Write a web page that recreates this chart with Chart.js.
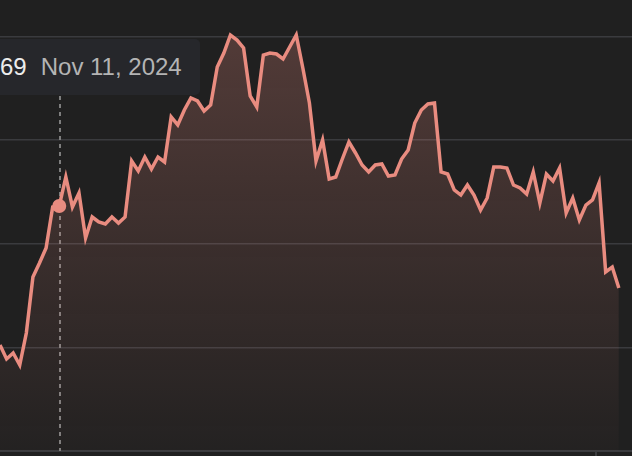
<!DOCTYPE html>
<html>
<head>
<meta charset="utf-8">
<script src="https://cdn.jsdelivr.net/npm/chart.js@4.4.1/dist/chart.umd.min.js"></script>
<style>
  html, body { margin: 0; padding: 0; background: #202020; overflow: hidden; }
  #wrap { position: relative; width: 632px; height: 456px; }
  #tip {
    position: absolute; left: 0; top: 39px; width: 200px; height: 56px;
    background: #26272b; border-radius: 0 5px 5px 0;
    font-family: "Liberation Sans", Arial, sans-serif; font-size: 24px;
    line-height: 56px; white-space: nowrap;
  }
  #tip .val { color: #ececec; }
  #tip .date { color: #b4b4b4; margin-left: 14px; }
</style>
</head>
<body>
<div id="wrap">
  <canvas id="priceChart"></canvas>
  <div id="tip"><span class="val">69</span><span class="date">Nov 11, 2024</span></div>
</div>
<script>
// Closing prices, one per trading day (visible part of the chart)
const prices = [
  160.45, 157.75, 158.90, 156.59, 162.76, 173.57, 176.27, 179.16, 187.07, 187.26,
  192.86, 187.07, 189.77, 181.09, 185.14, 184.18, 183.79, 185.14, 183.98, 185.14,
  195.94, 194.01, 196.71, 194.40, 196.71, 195.75, 204.43, 202.89, 205.78, 208.10,
  207.52, 205.59, 206.75, 214.08, 216.78, 220.25, 219.28, 217.74, 208.48, 206.36,
  216.39, 216.78, 216.58, 215.62, 217.93, 220.25, 213.88, 207.13, 195.94, 199.99,
  192.47, 192.86, 196.33, 199.61, 197.49, 195.17, 193.82, 195.17, 195.36, 193.05,
  193.24, 196.33, 198.06, 203.27, 205.78, 206.94, 207.13, 193.82, 193.43, 190.35,
  189.38, 191.31, 189.38, 186.49, 188.81, 194.79, 194.79, 194.59, 191.31, 190.73,
  189.58, 193.82, 187.84, 193.43, 192.08, 194.59, 185.91, 188.81, 184.56, 187.45,
  188.42, 191.70, 174.53, 175.49, 171.44
];

// Y axis: grid every 20 from 140, top of the plot at 227
const yMin = 140;
const yMax = 227;
const yStep = 20;

const firstDate = new Date(2024, 9, 29);   // Oct 29, 2024
const emptySlots = 2;                       // blank days after the last price
const activeDate = 'Nov 11, 2024';          // hovered point
const tickDate = 'Mar 5, 2025';             // single visible x tick

const lineColor = '#e98c80';
const gridColor = '#3a3b3e';

// Build weekday labels
const fmt = new Intl.DateTimeFormat('en-US', { month: 'short', day: 'numeric', year: 'numeric' });
const labels = [];
const d = new Date(firstDate);
while (labels.length < prices.length + emptySlots) {
    const wd = d.getDay();
    if (wd !== 0 && wd !== 6) labels.push(fmt.format(d));
    d.setDate(d.getDate() + 1);
}
const activeIndex = labels.indexOf(activeDate);
const tickIndex = labels.indexOf(tickDate);

// Dashed vertical line at the hovered point
const focusLine = {
    id: 'focusLine',
    beforeDatasetsDraw(chart) {
        const { ctx, chartArea } = chart;
        const x = Math.round(chart.scales.x.getPixelForValue(activeIndex)) + 1;
        ctx.save();
        ctx.strokeStyle = '#7e7e7e';
        ctx.lineWidth = 2;
        ctx.setLineDash([4, 4]);
        ctx.beginPath();
        ctx.moveTo(x, 96);
        ctx.lineTo(x, chartArea.bottom);
        ctx.stroke();
        ctx.restore();
    }
};

new Chart(document.getElementById('priceChart').getContext('2d'), {
    type: 'line',
    data: {
        labels: labels,
        datasets: [{
            data: prices,
            borderColor: lineColor,
            borderWidth: 3.5,
            tension: 0,
            fill: 'start',
            backgroundColor(context) {
                const { ctx, chartArea } = context.chart;
                if (!chartArea) return 'transparent';
                const g = ctx.createLinearGradient(0, chartArea.top, 0, chartArea.bottom);
                g.addColorStop(0, 'rgba(233, 140, 128, 0.27)');
                g.addColorStop(1, 'rgba(233, 140, 128, 0.02)');
                return g;
            },
            pointRadius: ctx => ctx.dataIndex === activeIndex ? 6 : 0,
            pointBackgroundColor: lineColor,
            pointBorderColor: lineColor,
            pointBorderWidth: 2
        }]
    },
    options: {
        responsive: true,
        maintainAspectRatio: false,
        animation: false,
        events: [],
        layout: { padding: 0 },
        plugins: {
            legend: { display: false },
            tooltip: { enabled: false }
        },
        scales: {
            x: {
                ticks: { display: false, autoSkip: false },
                grid: {
                    offset: true,
                    drawOnChartArea: false,
                    tickLength: 5,
                    lineWidth: 2,
                    color: ctx => ctx.index === tickIndex ? gridColor : 'transparent'
                },
                border: { display: true, color: gridColor, width: 2 }
            },
            y: {
                min: yMin,
                max: yMax,
                ticks: { display: false, stepSize: yStep },
                grid: {
                    drawTicks: false,
                    lineWidth: 1.5,
                    color: ctx => (ctx.tick.value - yMin) % yStep === 0 ? gridColor : 'transparent'
                },
                border: { display: false }
            }
        }
    },
    plugins: [focusLine]
});
</script>
</body>
</html>
